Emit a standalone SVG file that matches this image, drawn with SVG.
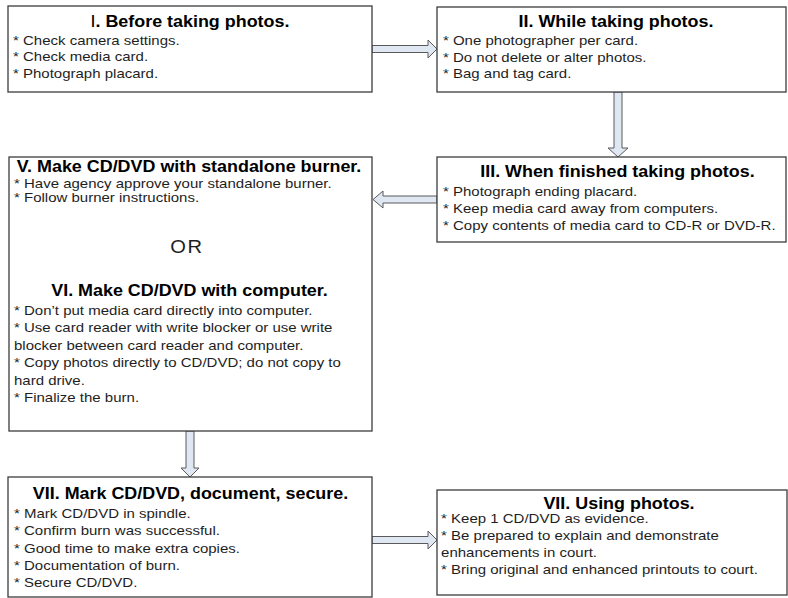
<svg xmlns="http://www.w3.org/2000/svg" width="788" height="598" viewBox="0 0 788 598">
<style>
.box{fill:#fff;stroke:#3c3c3c;stroke-width:1.3}
.arr{fill:#dfe7f3;stroke:#5a5a5a;stroke-width:1}
text{font-family:"Liberation Sans",Arial,sans-serif}
.t{font-size:16px;font-weight:bold;fill:#000;text-anchor:middle}
.b{font-size:13.4px;fill:#1e1e1e}
.or{font-size:18px;fill:#1e1e1e;text-anchor:middle;letter-spacing:1.5px}
</style>
<rect width="788" height="598" fill="#fff"/>
<g id="connectors">
<polygon class="arr" points="372,45.5 428,45.5 428,40 437,49 428,58 428,52.5 372,52.5"/>
<polygon class="arr" points="614,92 622,92 622,148 628,148 618,157 608,148 614,148"/>
<polygon class="arr" points="437,196 383,196 383,191 373,199.5 383,208 383,203 437,203"/>
<polygon class="arr" points="186,431 194,431 194,468 199,468 190,477 181,468 186,468"/>
<polygon class="arr" points="372,536.5 428,536.5 428,531 437,540 428,549 428,543.5 372,543.5"/>
</g>
<g id="node-before">
<rect class="box" x="8" y="6" width="364" height="86"/>
<g transform="scale(1.12 1)">
<text class="t" x="169.6" y="27.3"><tspan font-weight="normal">I</tspan>. Before taking photos.</text>
<text class="b" x="11.6" y="45">* Check camera settings.</text>
<text class="b" x="11.6" y="61.5">* Check media card.</text>
<text class="b" x="11.6" y="78">* Photograph placard.</text>
</g>
</g>
<g id="node-while">
<rect class="box" x="437" y="7" width="349" height="85"/>
<g transform="scale(1.12 1)">
<text class="t" x="550" y="27.3">II. While taking photos.</text>
<text class="b" x="395.5" y="45.5">* One photographer per card.</text>
<text class="b" x="395.5" y="62">* Do not delete or alter photos.</text>
<text class="b" x="395.5" y="78.5">* Bag and tag card.</text>
</g>
</g>
<g id="node-finished">
<rect class="box" x="437" y="157" width="349" height="85"/>
<g transform="scale(1.12 1)">
<text class="t" x="551.3" y="177">III. When finished taking photos.</text>
<text class="b" x="395.5" y="196">* Photograph ending placard.</text>
<text class="b" x="395.5" y="213">* Keep media card away from computers.</text>
<text class="b" x="395.5" y="230.5">* Copy contents of media card to CD-R or DVD-R.</text>
</g>
</g>
<g id="node-make">
<rect class="box" x="9" y="157" width="363" height="274"/>
<g transform="scale(1.12 1)">
<text class="t" x="168.8" y="172.5">V. Make CD/DVD with standalone burner.</text>
<text class="b" x="12.5" y="188">* Have agency approve your standalone burner.</text>
<text class="b" x="12.5" y="202.5">* Follow burner instructions.</text>
<text class="or" x="167" y="253">OR</text>
<text class="t" x="169.2" y="296">VI. Make CD/DVD with computer.</text>
<text class="b" x="12.5" y="315">* Don’t put media card directly into computer.</text>
<text class="b" x="12.5" y="332.5">* Use card reader with write blocker or use write</text>
<text class="b" x="12.5" y="350">blocker between card reader and computer.</text>
<text class="b" x="12.5" y="367.5">* Copy photos directly to CD/DVD; do not copy to</text>
<text class="b" x="12.5" y="385">hard drive.</text>
<text class="b" x="12.5" y="402.5">* Finalize the burn.</text>
</g>
</g>
<g id="node-mark">
<rect class="box" x="8" y="477" width="364" height="120"/>
<g transform="scale(1.12 1)">
<text class="t" x="170.1" y="499">VII. Mark CD/DVD, document, secure.</text>
<text class="b" x="12.5" y="518">* Mark CD/DVD in spindle.</text>
<text class="b" x="12.5" y="535.5">* Confirm burn was successful.</text>
<text class="b" x="12.5" y="553">* Good time to make extra copies.</text>
<text class="b" x="12.5" y="570">* Documentation of burn.</text>
<text class="b" x="12.5" y="587">* Secure CD/DVD.</text>
</g>
</g>
<g id="node-using">
<rect class="box" x="437" y="490" width="350" height="105"/>
<g transform="scale(1.12 1)">
<text class="t" x="552.7" y="509">VII. Using photos.</text>
<text class="b" x="393.8" y="523">* Keep 1 CD/DVD as evidence.</text>
<text class="b" x="393.8" y="540.5">* Be prepared to explain and demonstrate</text>
<text class="b" x="393.8" y="557">enhancements in court.</text>
<text class="b" x="393.8" y="574">* Bring original and enhanced printouts to court.</text>
</g>
</g>
</svg>
